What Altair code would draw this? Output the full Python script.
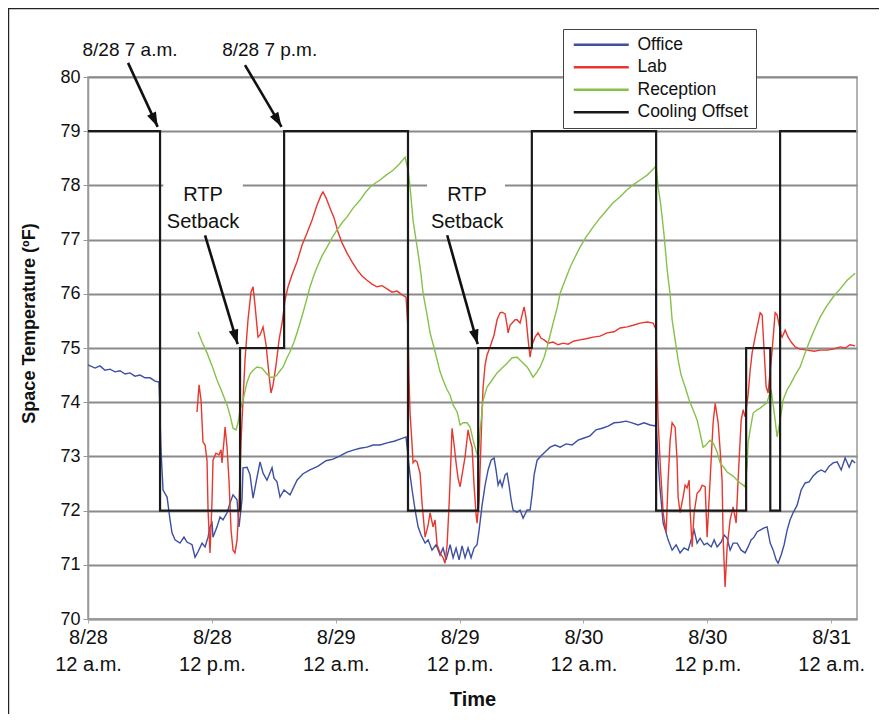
import math
import altair as alt
import pandas as pd

FONT = "Liberation Sans"

# ---------------- data (hours since 8/28 12 a.m., temperature in F) ----------------
office = [
    (0.00, 74.69), (0.68, 74.63), (1.16, 74.67), (1.65, 74.59), (2.13, 74.61), (2.62, 74.56),
    (3.10, 74.58), (3.59, 74.52), (4.07, 74.54), (4.55, 74.48), (5.04, 74.50), (5.52, 74.45),
    (6.01, 74.45), (6.49, 74.39), (6.88, 74.37),
    (7.07, 73.12), (7.27, 72.38), (7.66, 72.25), (7.95, 71.83), (8.14, 71.59), (8.43, 71.46),
    (8.91, 71.40), (9.30, 71.51), (9.59, 71.42), (10.08, 71.37), (10.37, 71.14), (10.66, 71.24),
    (11.05, 71.40), (11.34, 71.33), (11.63, 71.51), (11.82, 71.70), (12.02, 71.77), (12.11, 71.51),
    (12.50, 71.70), (12.79, 71.88), (13.08, 71.83), (13.47, 71.96), (13.76, 72.14), (14.05, 72.29),
    (14.44, 72.20), (14.63, 71.70), (14.92, 72.20), (15.02, 72.79), (15.41, 72.80), (15.70, 72.66),
    (15.99, 72.23), (16.38, 72.62), (16.67, 72.90), (16.96, 72.69), (17.34, 72.56), (17.83, 72.79),
    (18.02, 72.60), (18.31, 72.53), (18.60, 72.25), (18.99, 72.38), (19.57, 72.29), (20.25, 72.56),
    (20.83, 72.68), (21.51, 72.75), (22.29, 72.82), (23.06, 72.92), (23.74, 72.95), (24.42, 73.01),
    (25.10, 73.08), (25.78, 73.12), (26.36, 73.15), (27.03, 73.17), (27.62, 73.21), (28.29, 73.21),
    (28.97, 73.25), (29.65, 73.28), (30.23, 73.32), (30.81, 73.36),
    (31.01, 72.99), (31.20, 72.66), (31.40, 72.38), (31.69, 72.01), (31.98, 71.70), (32.27, 71.55),
    (32.66, 71.40), (32.95, 71.46), (33.33, 71.27), (33.72, 71.37), (34.11, 71.18), (34.40, 71.31),
    (34.69, 71.09), (35.08, 71.37), (35.37, 71.13), (35.66, 71.31), (35.95, 71.09), (36.24, 71.35),
    (36.53, 71.13), (36.82, 71.31), (37.11, 71.13), (37.40, 71.31), (37.69, 71.37), (37.89, 71.64),
    (38.18, 72.10), (38.47, 72.47), (38.76, 72.75), (39.05, 72.93), (39.34, 72.97), (39.53, 72.75),
    (39.73, 72.47), (39.92, 72.56), (40.12, 72.44), (40.41, 72.66), (40.60, 72.69), (40.79, 72.47),
    (40.99, 72.20), (41.18, 72.01), (41.57, 71.97), (41.86, 72.01), (42.15, 71.86), (42.54, 72.01),
    (42.83, 72.01), (43.02, 72.29), (43.22, 72.66), (43.51, 72.93), (43.90, 73.01), (44.28, 73.08),
    (44.77, 73.17), (45.25, 73.21), (45.74, 73.17), (46.32, 73.23), (46.90, 73.21), (47.48, 73.30),
    (48.06, 73.34), (48.64, 73.38), (49.22, 73.49), (49.81, 73.52), (50.39, 73.56), (50.97, 73.62),
    (51.55, 73.63), (52.13, 73.65), (52.71, 73.62), (53.29, 73.58), (53.88, 73.62), (54.46, 73.58),
    (54.94, 73.56),
    (55.04, 73.62), (55.23, 72.93), (55.43, 72.38), (55.72, 71.77), (56.01, 71.59), (56.20, 71.46),
    (56.59, 71.27), (56.98, 71.37), (57.36, 71.22), (57.75, 71.31), (58.14, 71.27), (58.43, 71.46),
    (58.72, 71.64), (59.01, 71.40), (59.30, 71.49), (59.69, 71.37), (59.98, 71.40), (60.37, 71.33),
    (60.66, 71.46), (60.95, 71.33), (61.34, 71.42), (61.63, 71.55), (61.92, 71.49), (62.21, 71.27),
    (62.50, 71.40), (62.89, 71.40), (63.28, 71.27), (63.66, 71.22), (63.95, 71.33), (64.24, 71.46),
    (64.53, 71.51), (64.83, 71.61), (65.12, 71.64), (65.50, 71.68), (65.79, 71.70), (66.09, 71.40),
    (66.38, 71.27), (66.67, 71.09), (66.86, 71.03), (67.15, 71.18), (67.44, 71.37), (67.73, 71.64),
    (68.02, 71.83), (68.31, 71.96), (68.70, 72.10), (69.09, 72.38), (69.48, 72.51), (69.86, 72.53),
    (70.25, 72.64), (70.64, 72.71), (71.03, 72.75), (71.41, 72.71), (71.80, 72.82), (72.19, 72.88),
    (72.58, 72.90), (72.97, 72.75), (73.35, 72.97), (73.74, 72.80), (74.03, 72.93), (74.32, 72.88),
]

lab = [
    (10.56, 73.82), (10.76, 74.32), (10.95, 74.04), (11.14, 73.27), (11.34, 73.21), (11.53, 72.93),
    (11.63, 72.01), (11.82, 71.22), (12.02, 72.20), (12.11, 72.93), (12.40, 73.06), (12.69, 73.03),
    (12.89, 73.12), (12.98, 72.88), (13.18, 73.30), (13.28, 73.54), (13.47, 73.17), (13.66, 72.56),
    (13.86, 71.64), (14.05, 71.27), (14.24, 71.22), (14.44, 71.46), (14.63, 72.10), (14.83, 73.30),
    (15.02, 74.04), (15.21, 74.78), (15.50, 75.52), (15.79, 76.03), (15.99, 76.13), (16.18, 75.79),
    (16.47, 75.20), (16.67, 75.24), (16.96, 75.39), (17.25, 75.06), (17.54, 74.50), (17.73, 74.17),
    (17.93, 74.32), (18.22, 74.69), (18.51, 75.15), (18.80, 75.46), (19.09, 75.89), (19.38, 76.13),
    (19.77, 76.35), (20.25, 76.59), (20.74, 76.90), (21.22, 77.12), (21.71, 77.36), (22.19, 77.64),
    (22.58, 77.82), (22.77, 77.88), (23.06, 77.77), (23.45, 77.58), (23.84, 77.40), (24.22, 77.14),
    (24.61, 76.94), (25.10, 76.75), (25.58, 76.59), (26.07, 76.44), (26.55, 76.33), (27.03, 76.25),
    (27.52, 76.18), (28.00, 76.13), (28.49, 76.15), (28.97, 76.09), (29.46, 76.03), (29.94, 76.05),
    (30.43, 75.98), (30.81, 75.94),
    (31.01, 75.33), (31.10, 74.41), (31.20, 73.80), (31.40, 73.21), (31.49, 72.88), (31.69, 72.93),
    (31.88, 72.90), (32.17, 72.69), (32.36, 72.14), (32.66, 71.51), (32.95, 71.73), (33.14, 71.96),
    (33.43, 71.70), (33.62, 71.83), (33.82, 71.37), (34.11, 71.22), (34.40, 71.13), (34.59, 71.03),
    (34.79, 71.37), (34.98, 72.10), (35.08, 72.56), (35.27, 73.52), (35.47, 73.21), (35.66, 72.88),
    (35.85, 72.60), (36.05, 72.44), (36.24, 72.66), (36.53, 72.99), (36.82, 73.49), (37.02, 73.30),
    (37.21, 73.17), (37.40, 72.47), (37.60, 71.92), (37.69, 71.77), (37.89, 72.20), (38.08, 73.30),
    (38.18, 73.86), (38.28, 74.28), (38.47, 74.69), (38.66, 74.87), (38.95, 75.02), (39.34, 75.24),
    (39.63, 75.52), (39.92, 75.65), (40.12, 75.66), (40.41, 75.63), (40.60, 75.42), (40.70, 75.28),
    (40.89, 75.42), (41.09, 75.46), (41.38, 75.52), (41.57, 75.52), (41.86, 75.46), (42.05, 75.61),
    (42.25, 75.76), (42.44, 75.55), (42.64, 75.15), (42.83, 74.83), (43.02, 75.06), (43.31, 75.20),
    (43.60, 75.28), (43.90, 75.18), (44.19, 75.15), (44.57, 75.09), (45.06, 75.11), (45.54, 75.06),
    (46.03, 75.09), (46.51, 75.07), (47.09, 75.13), (47.67, 75.15), (48.26, 75.17), (48.93, 75.20),
    (49.61, 75.22), (50.29, 75.28), (50.97, 75.30), (51.55, 75.37), (52.23, 75.39), (52.81, 75.42),
    (53.49, 75.46), (54.17, 75.48), (54.75, 75.46),
    (55.04, 75.33), (55.14, 74.41), (55.23, 73.67), (55.43, 72.88), (55.72, 71.96), (56.01, 71.59),
    (56.20, 72.56), (56.40, 73.30), (56.59, 73.62), (56.88, 73.54), (57.07, 72.93), (57.17, 72.25),
    (57.36, 71.96), (57.65, 72.25), (57.85, 72.47), (58.04, 72.42), (58.24, 72.56), (58.33, 72.01),
    (58.53, 71.33), (58.72, 71.96), (59.01, 72.32), (59.30, 72.38), (59.50, 72.47), (59.79, 72.44),
    (59.98, 71.51), (60.27, 72.56), (60.47, 73.30), (60.56, 73.62), (60.76, 73.98), (61.05, 73.62),
    (61.24, 73.12), (61.43, 72.56), (61.53, 71.51), (61.72, 70.59), (61.92, 71.33), (62.21, 71.83),
    (62.50, 72.07), (62.79, 71.77), (62.98, 72.56), (63.18, 73.30), (63.28, 73.67), (63.47, 73.86),
    (63.66, 73.73), (63.95, 74.13), (64.15, 74.59), (64.34, 74.91), (64.63, 75.20), (64.83, 75.39),
    (65.12, 75.65), (65.31, 75.61), (65.50, 74.96), (65.70, 74.28), (65.89, 74.17), (66.09, 74.59),
    (66.28, 74.96), (66.57, 75.65), (66.76, 75.61), (66.96, 75.42), (67.15, 75.24), (67.25, 75.20),
    (67.54, 75.33), (67.83, 75.20), (68.12, 75.11), (68.51, 75.02), (68.99, 74.98), (69.67, 74.96),
    (70.35, 74.94), (70.93, 74.96), (71.61, 74.96), (72.19, 74.98), (72.87, 75.02), (73.35, 75.00),
    (73.84, 75.06), (74.32, 75.04),
]

reception = [
    (10.66, 75.30), (11.05, 75.11), (11.53, 74.91), (12.02, 74.67), (12.50, 74.41), (12.98, 74.19),
    (13.47, 73.95), (13.76, 73.76), (14.05, 73.52), (14.34, 73.49), (14.53, 73.62), (14.73, 73.86),
    (15.02, 74.04), (15.41, 74.37), (15.70, 74.52), (15.99, 74.59), (16.38, 74.65), (16.86, 74.63),
    (17.25, 74.54), (17.64, 74.46), (18.02, 74.46), (18.31, 74.50), (18.60, 74.58), (18.90, 74.65),
    (19.28, 74.82), (19.57, 74.93), (19.96, 75.11), (20.25, 75.28), (20.54, 75.46), (20.83, 75.65),
    (21.22, 75.92), (21.51, 76.13), (21.90, 76.35), (22.19, 76.49), (22.67, 76.70), (23.16, 76.86),
    (23.64, 77.03), (24.13, 77.18), (24.61, 77.31), (25.10, 77.42), (25.68, 77.58), (26.36, 77.73),
    (26.84, 77.86), (27.33, 77.97), (27.81, 78.04), (28.29, 78.10), (28.88, 78.19), (29.55, 78.28),
    (30.14, 78.39), (30.72, 78.52),
    (31.01, 78.28), (31.20, 77.97), (31.49, 77.36), (31.78, 76.99), (31.98, 76.75), (32.27, 76.35),
    (32.46, 76.01), (32.85, 75.61), (33.14, 75.28), (33.53, 75.00), (33.82, 74.78), (34.11, 74.56),
    (34.40, 74.41), (34.79, 74.23), (35.08, 74.13), (35.37, 73.95), (35.76, 73.82), (36.05, 73.58),
    (36.34, 73.62), (36.72, 73.62), (37.02, 73.54), (37.31, 73.30), (37.60, 73.10), (37.79, 73.00),
    (38.00, 73.49), (38.28, 74.04), (38.66, 74.28), (39.15, 74.41), (39.63, 74.54), (40.12, 74.63),
    (40.60, 74.72), (41.09, 74.82), (41.57, 74.83), (42.05, 74.74), (42.54, 74.65), (42.83, 74.56),
    (43.12, 74.46), (43.51, 74.56), (43.80, 74.65), (44.19, 74.83), (44.48, 75.02), (44.77, 75.24),
    (45.06, 75.46), (45.45, 75.74), (45.74, 76.01), (46.22, 76.25), (46.71, 76.49), (47.19, 76.68),
    (47.67, 76.86), (48.26, 77.05), (48.93, 77.23), (49.61, 77.40), (50.29, 77.55), (50.87, 77.68),
    (51.55, 77.79), (52.23, 77.92), (52.81, 78.01), (53.49, 78.10), (54.17, 78.19), (54.65, 78.28),
    (55.04, 78.36),
    (55.23, 77.97), (55.43, 77.73), (55.62, 77.42), (55.81, 77.08), (56.11, 76.44), (56.40, 75.98),
    (56.59, 75.52), (56.88, 75.15), (57.17, 74.78), (57.46, 74.50), (57.85, 74.28), (58.24, 74.04),
    (58.62, 73.86), (59.01, 73.67), (59.30, 73.43), (59.59, 73.17), (59.88, 73.21), (60.27, 73.30),
    (60.56, 73.25), (60.95, 73.08), (61.24, 72.88), (61.63, 72.79), (61.92, 72.71), (62.31, 72.66),
    (62.60, 72.62), (62.89, 72.56), (63.18, 72.51), (63.47, 72.47), (63.66, 72.44), (63.86, 72.84),
    (63.95, 73.25), (64.15, 73.49), (64.44, 73.80), (64.83, 73.86), (65.12, 73.89), (65.50, 73.95),
    (65.79, 73.99), (65.99, 74.13), (66.18, 74.23), (66.38, 73.95), (66.57, 73.67), (66.76, 73.36),
    (67.05, 73.67), (67.34, 74.04), (67.73, 74.23), (68.02, 74.32), (68.51, 74.50), (68.99, 74.65),
    (69.48, 74.91), (69.96, 75.15), (70.45, 75.37), (70.93, 75.57), (71.51, 75.76), (72.19, 75.94),
    (72.87, 76.09), (73.55, 76.25), (74.32, 76.38),
]

# step changes of the cooling offset set point (start hour, value)
cooling = [
    (0.0, 79), (6.98, 72), (14.73, 75), (19.0, 79), (31.0, 72), (37.8, 75), (43.0, 79),
    (55.04, 72), (63.76, 75), (66.1, 72), (67.05, 79), (74.4, 79),
]

series_names = ["Office", "Lab", "Reception", "Cooling Offset"]
series_colors = ["#3d4fa3", "#e8372e", "#86c14a", "#1a1a1a"]

x_ticks = [0, 12, 24, 36, 48, 60, 72]
x_day_labels = ["8/28", "8/28", "8/29", "8/29", "8/30", "8/30", "8/31"]
y_ticks = list(range(70, 81))

# annotations
top_labels = [("8/28 7 a.m.", 4.07), ("8/28 7 p.m.", 17.6)]
top_label_temp = 80.39
rtp_labels = [("RTP\nSetback", 11.14), ("RTP\nSetback", 36.72)]
rtp_label_temp = 77.71
rtp_boxes = [(7.3, 15.0), (32.85, 40.4)]
rtp_box_temp = (77.12, 78.25)
arrows = [  # tail hour, tail temp, head hour, head temp
    (3.88, 80.26, 6.75, 79.08),
    (15.21, 80.22, 18.75, 79.08),
    (11.34, 77.08, 14.5, 75.07),
    (34.8, 77.08, 37.75, 75.07),
]

# ---------------- chart ----------------
W, H = 769, 542
XMAX = 74.5
YMIN, YMAX = 70, 80

rows = []
for name, pts in (("Office", office), ("Lab", lab), ("Reception", reception)):
    for h, t in pts:
        rows.append({"hour": h, "temp": t, "series": name})
sensor_df = pd.DataFrame(rows)
cool_df = pd.DataFrame([{"hour": h, "temp": t, "series": "Cooling Offset"} for h, t in cooling])

xs = alt.Scale(domain=[0, XMAX], nice=False, zero=False)
ys = alt.Scale(domain=[YMIN, YMAX], nice=False, zero=False)
cs = alt.Scale(domain=series_names, range=series_colors)

label_expr = ("[" + "[" + ",".join("'%s'" % d for d in x_day_labels) + "][round(datum.value/12)], "
              "(datum.value % 24 == 0) ? '12 a.m.' : '12 p.m.']")

x_axis = alt.Axis(values=x_ticks, labelExpr=label_expr, grid=False, title="Time",
                  labelFontSize=20, labelLineHeight=27, labelPadding=4, labelColor="#111",
                  labelFont=FONT, titleFont=FONT, titleFontSize=20, titleFontWeight="bold",
                  titleColor="#111", titlePadding=15, tickSize=4, tickColor="#aaaaaa",
                  domainColor="#999999", domainWidth=1.5, labelFlush=False)
y_axis = alt.Axis(values=y_ticks, grid=True, gridColor="#8a8a8a", gridWidth=2,
                  title="Space Temperature (ºF)", labelFontSize=18, labelColor="#111",
                  labelFont=FONT, titleFont=FONT, titleFontSize=18, titleFontWeight="bold",
                  titleColor="#111", titlePadding=21, titleY=246, tickSize=5, tickColor="#999999",
                  domainColor="#999999", domainWidth=1.5, labelPadding=3)

legend = alt.Legend(title=None, orient="none", legendX=475, legendY=-48,
                    symbolType="M-1.25,0L12.5,0", symbolSize=64, symbolStrokeWidth=2.5,
                    labelFont=FONT, labelFontSize=17.5, labelColor="#111", labelOffset=50,
                    strokeColor="#444444", fillColor="white", padding=7, rowPadding=3.5,
                    cornerRadius=0)

base_x = alt.X("hour:Q", scale=xs, axis=x_axis)
base_y = alt.Y("temp:Q", scale=ys, axis=y_axis)

box_df = pd.DataFrame([{"h1": a, "h2": b, "t1": rtp_box_temp[0], "t2": rtp_box_temp[1]} for a, b in rtp_boxes])
boxes = alt.Chart(box_df).mark_rect(fill="white", stroke=None).encode(
    x=alt.X("h1:Q", scale=xs, axis=x_axis), x2="h2:Q",
    y=alt.Y("t1:Q", scale=ys, axis=y_axis), y2="t2:Q")

sensors = alt.Chart(sensor_df).mark_line(strokeWidth=1.4).encode(
    x=base_x, y=base_y,
    color=alt.Color("series:N", scale=cs, legend=legend, sort=series_names),
    order="hour:Q")

cool_line = alt.Chart(cool_df).mark_line(strokeWidth=2.2, interpolate="step-after").encode(
    x=base_x, y=base_y,
    color=alt.Color("series:N", scale=cs, legend=legend, sort=series_names))

sx = W / XMAX
sy = H / (YMAX - YMIN)
arrow_rows = []
for h1, t1, h2, t2 in arrows:
    dx = (h2 - h1) * sx
    dy = -(t2 - t1) * sy
    ang = math.degrees(math.atan2(dx, -dy)) % 360
    arrow_rows.append({"h1": h1, "t1": t1, "h2": h2, "t2": t2, "ang": ang})
arrow_df = pd.DataFrame(arrow_rows)

shafts = alt.Chart(arrow_df).mark_rule(color="#111", strokeWidth=2.6).encode(
    x=alt.X("h1:Q", scale=xs, axis=x_axis), x2="h2:Q",
    y=alt.Y("t1:Q", scale=ys, axis=y_axis), y2="t2:Q")
heads = alt.Chart(arrow_df).mark_point(
    shape="M0,0 L-0.5,1.5 L0.5,1.5 Z", filled=True, color="#111", opacity=1, size=380,
    strokeWidth=0).encode(
    x=alt.X("h2:Q", scale=xs, axis=x_axis),
    y=alt.Y("t2:Q", scale=ys, axis=y_axis),
    angle=alt.Angle("ang:Q", scale=None))

top_df = pd.DataFrame([{"label": s, "hour": h, "temp": top_label_temp} for s, h in top_labels])
top_text = alt.Chart(top_df).mark_text(font=FONT, fontSize=19, color="#111",
                                       align="center", baseline="alphabetic").encode(
    x=base_x, y=base_y, text="label:N")

rtp_df = pd.DataFrame([{"label": s, "hour": h, "temp": rtp_label_temp} for s, h in rtp_labels])
rtp_text = alt.Chart(rtp_df).mark_text(font=FONT, fontSize=20, color="#111", lineBreak="\n",
                                       lineHeight=27, align="center", baseline="alphabetic").encode(
    x=base_x, y=base_y, text="label:N")

frame_df = pd.DataFrame([{"k": 0}])
frame_left = alt.Chart(frame_df).mark_rule(color="#222", strokeWidth=1.2).encode(
    x=alt.value(-79.4), y=alt.value(-69), y2=alt.value(H + 100))
frame_top = alt.Chart(frame_df).mark_rule(color="#222", strokeWidth=1.2).encode(
    x=alt.value(-80), x2=alt.value(W + 24), y=alt.value(-68.4))

chart = alt.layer(boxes, sensors, cool_line, shafts, heads, top_text, rtp_text,
                  frame_left, frame_top).properties(
    width=W, height=H,
    autosize=alt.AutoSizeParams(type="none"),
    padding={"left": 80, "top": 69, "right": 22, "bottom": 95},
    background="white",
).configure_view(stroke="#999999", strokeWidth=1.5)

chart.save("out.html", embed_options={"renderer": "svg", "actions": False})
